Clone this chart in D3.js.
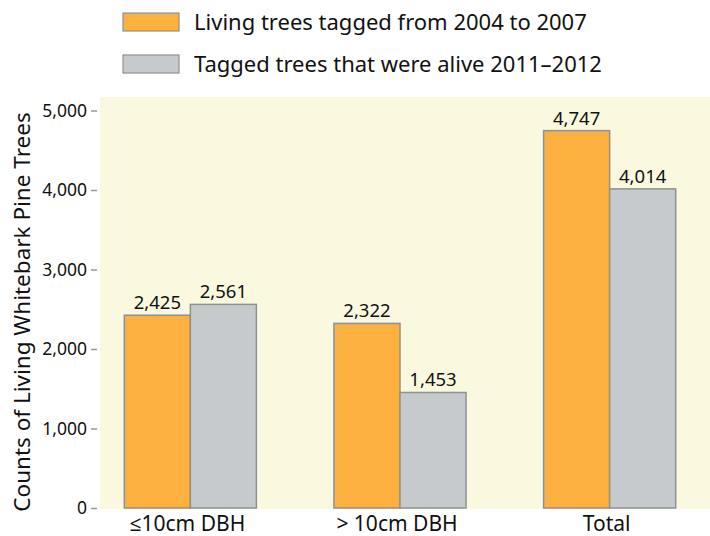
<!DOCTYPE html>
<html>
<head>
<meta charset="utf-8">
<script src="https://cdn.jsdelivr.net/npm/d3@7"></script>
<style>
  body { margin: 0; background: #fff; }
  text { font-family: "Noto Sans", "Open Sans", sans-serif; fill: #111; }
</style>
</head>
<body>
<script>
let W = 710
let H = 536

let categories = ["≤10cm DBH", "> 10cm DBH", "Total"]
let series = ["Living trees tagged from 2004 to 2007", "Tagged trees that were alive 2011–2012"]
let tagged = [2425, 2322, 4747]
let alive = [2561, 1453, 4014]
let yTicks = [0, 1000, 2000, 3000, 4000, 5000]
let colors = ["#fbb040", "#c6cacd"]

let svg = d3.select("body")
    .append("svg")
    .attr("width", W)
    .attr("height", H)

// plot background
svg.append("rect")
    .attr("x", 100)
    .attr("y", 97)
    .attr("width", W - 100)
    .attr("height", 412)
    .attr("fill", "#faf9e0")

let x = d3.scaleBand()
    .domain(categories)
    .range([100, 700])
    .paddingInner(0.37)
    .paddingOuter(0.116)

let xs = d3.scaleBand()
    .domain([0, 1])
    .range([0, x.bandwidth()])

let y = d3.scaleLinear()
    .domain([0, 5000])
    .range([508, 110.5])

// y axis
let yAxis = svg.append("g")
    .attr("transform", "translate(97,0)")
    .call(d3.axisLeft(y)
        .tickValues(yTicks)
        .tickFormat(d3.format(","))
        .tickSize(6)
        .tickPadding(4))
yAxis.select(".domain").remove()
yAxis.selectAll(".tick line").attr("stroke", "#9a9a9a").attr("stroke-width", 1.5)
yAxis.selectAll(".tick text")
    .attr("font-size", 17.5)
    .attr("font-family", "Noto Sans, sans-serif")
    .attr("fill", "#111")

svg.append("text")
    .attr("transform", "translate(30,312) rotate(-90)")
    .attr("text-anchor", "middle")
    .attr("font-size", 22.5)
    .text("Counts of Living Whitebark Pine Trees")

// bars
let rows = categories.map((c, i) => ({ cat: c, vals: [tagged[i], alive[i]] }))

let group = svg.append("g")
    .selectAll("g")
    .data(rows)
    .enter()
    .append("g")
    .attr("transform", d => "translate(" + x(d.cat) + ",0)")

group.selectAll("rect")
    .data(d => d.vals)
    .enter()
    .append("rect")
    .attr("x", (d, i) => xs(i))
    .attr("y", d => y(d))
    .attr("width", xs.bandwidth())
    .attr("height", d => y(0) - y(d))
    .attr("fill", (d, i) => colors[i])
    .attr("stroke", "#8c9292")
    .attr("stroke-width", 1.5)

group.selectAll("text")
    .data(d => d.vals)
    .enter()
    .append("text")
    .attr("x", (d, i) => xs(i) + xs.bandwidth() / 2)
    .attr("y", d => y(d) - 6)
    .attr("text-anchor", "middle")
    .attr("font-size", 18.5)
    .text(d => d3.format(",")(d))

// category labels
svg.append("g")
    .selectAll("text")
    .data(categories)
    .enter()
    .append("text")
    .attr("x", d => x(d) + x.bandwidth() / 2 - 3)
    .attr("y", 531)
    .attr("text-anchor", "middle")
    .attr("font-size", 21)
    .text(d => d)

// legend
let legend = svg.append("g")
    .selectAll("g")
    .data(series)
    .enter()
    .append("g")
    .attr("transform", (d, i) => "translate(123," + (13 + i * 42) + ")")

legend.append("rect")
    .attr("width", 56)
    .attr("height", 18)
    .attr("fill", (d, i) => colors[i])
    .attr("stroke", "#8c9292")
    .attr("stroke-width", 1.2)

legend.append("text")
    .attr("x", 71)
    .attr("y", 9)
    .attr("dy", "0.35em")
    .attr("font-size", 22)
    .text(d => d)
</script>
</body>
</html>
